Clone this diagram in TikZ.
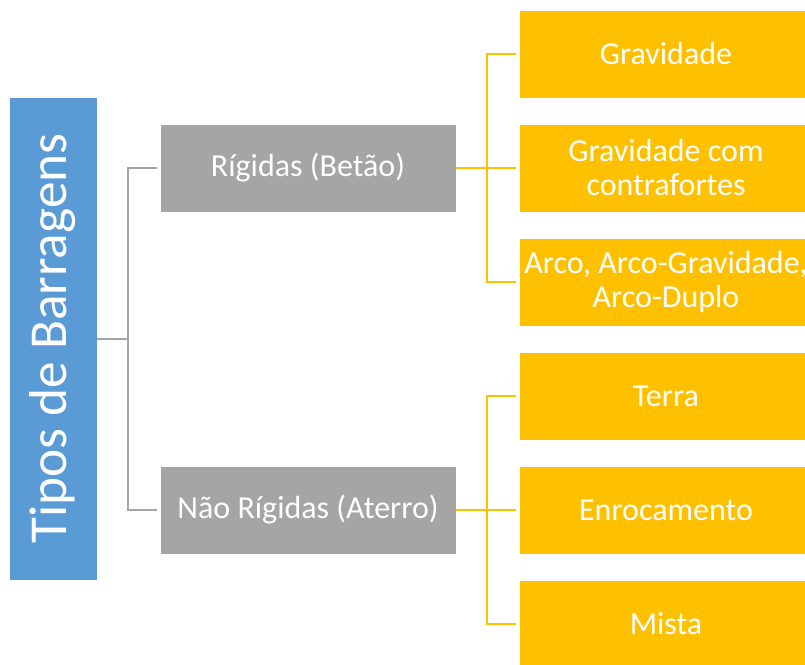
\documentclass[tikz,border=0pt]{standalone}
\usepackage{fontspec}
\setmainfont{Carlito}
\usetikzlibrary{positioning}

\definecolor{tiposblue}{HTML}{5B9BD5}
\definecolor{groupgray}{HTML}{A5A5A5}
\definecolor{typegold}{HTML}{FFC000}

\tikzset{
  rootbox/.style={fill=tiposblue, draw=white, text=white, inner sep=0pt,
    minimum width=66pt, minimum height=362.25pt,
    font=\fontsize{40}{44}\selectfont},
  groupbox/.style={fill=groupgray, draw=white, text=white, inner sep=0pt,
    minimum width=222pt, minimum height=66pt,
    font=\fontsize{24}{25.5}\selectfont},
  typebox/.style={fill=typegold, draw=white, text=white, inner sep=0pt,
    minimum width=220.5pt, minimum height=66pt, align=center,
    font=\fontsize{24}{25.5}\selectfont},
  grayline/.style={draw=groupgray, line width=1.5pt, shorten >=2.25pt},
  goldline/.style={draw=typegold, line width=1.5pt, shorten >=2.25pt},
}

\begin{document}
\begin{tikzpicture}[x=0.75pt, y=-0.75pt]
    \useasboundingbox (0,0) rectangle (805,664);

    % We start by placing the blocks
    \node[rootbox] (tipos) at (53,338.5) {\rotatebox{90}{Tipos de Barragens}};

    \node[groupbox] (rig)  at (308,168) {Rígidas (Betão)};
    \node[groupbox] (nrig) at (308,510) {Não Rígidas (Aterro)};

    \node[typebox] (grav)  at (666,54)  {Gravidade};
    \node[typebox] (gravc) at (666,168) {Gravidade com\\contrafortes};
    \node[typebox] (arco)  at (666,282) {Arco, Arco-Gravidade,\\Arco-Duplo};
    \node[typebox] (terra) at (666,396) {Terra};
    \node[typebox] (enro)  at (666,510) {Enrocamento};
    \node[typebox] (mista) at (666,624) {Mista};

    % root to groups
    \draw[grayline] (tipos.east) -- ++(31,0) |- (rig.west);
    \draw[grayline] (tipos.east) -- ++(31,0) |- (nrig.west);

    % rigid dams
    \draw[goldline] (rig.east) -- ++(31,0) |- (grav.west);
    \draw[goldline] (rig.east) -- ++(31,0) |- (gravc.west);
    \draw[goldline] (rig.east) -- ++(31,0) |- (arco.west);

    % embankment dams
    \draw[goldline] (nrig.east) -- ++(31,0) |- (terra.west);
    \draw[goldline] (nrig.east) -- ++(31,0) |- (enro.west);
    \draw[goldline] (nrig.east) -- ++(31,0) |- (mista.west);
\end{tikzpicture}
\end{document}
